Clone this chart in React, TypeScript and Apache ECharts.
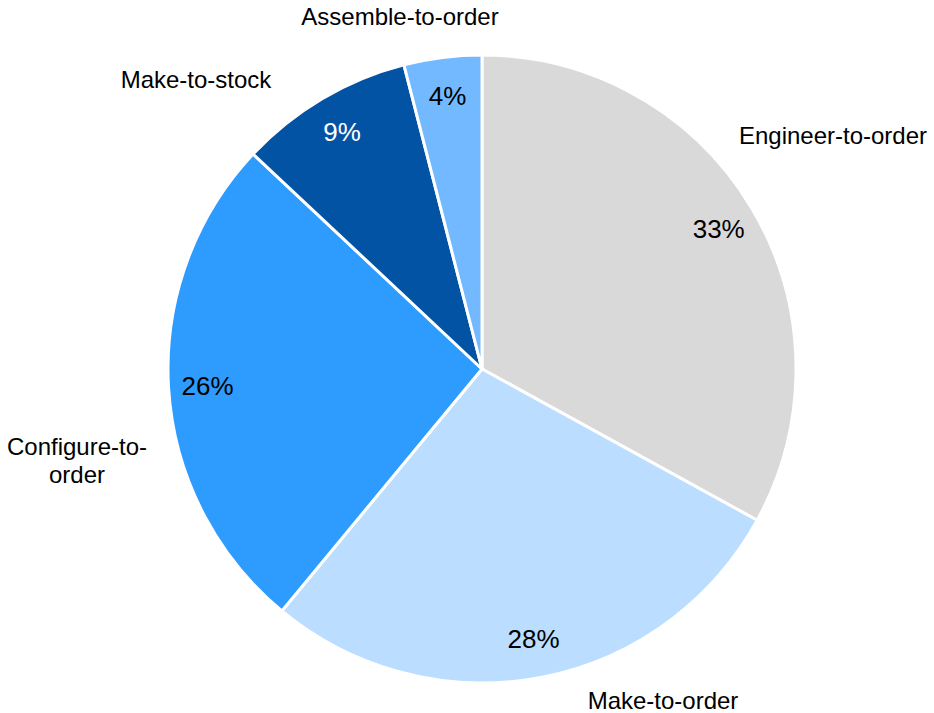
import React, { useEffect, useRef } from "react";
import * as echarts from "echarts";

const categories = [
  "Engineer-to-order",
  "Make-to-order",
  "Configure-to-order",
  "Make-to-stock",
  "Assemble-to-order",
];
const shares = [33, 28, 26, 9, 4];
const nameLabels = [
  "Engineer-to-order",
  "Make-to-order",
  "Configure-to-\norder",
  "Make-to-stock",
  "Assemble-to-order",
];
const colors = ["#D9D9D9", "#BBDDFF", "#2E9BFF", "#0353A4", "#72B9FF"];
const pctColors = ["#000000", "#000000", "#000000", "#ffffff", "#000000"];
// label anchor points (centre of each category label), in px
const nameLabelPos: [number, number][] = [
  [833, 135],
  [663, 700],
  [77, 460],
  [196, 79],
  [400, 16],
];

const FONT = "'Liberation Sans', Arial, Helvetica, sans-serif";

export default function App() {
  const ref = useRef<HTMLDivElement>(null);
  useEffect(() => {
    if (!ref.current) return;
    const chart = echarts.init(ref.current, undefined, { renderer: "svg" });
    const data = categories.map((name, i) => ({
      name,
      value: shares[i],
      itemStyle: { color: colors[i] },
    }));
    chart.setOption({
      animation: false,
      backgroundColor: "#ffffff",
      series: [
        {
          type: "pie",
          center: [482, 369],
          radius: 314,
          startAngle: 90,
          clockwise: true,
          silent: true,
          data,
          itemStyle: { borderColor: "#ffffff", borderWidth: 3 },
          label: {
            show: true,
            position: "outside",
            alignTo: "none",
            overflow: "none",
            formatter: (p: any) => nameLabels[p.dataIndex],
            fontFamily: FONT,
            fontSize: 24,
            lineHeight: 28,
            color: "#000000",
            align: "center",
          },
          labelLine: { show: false },
          labelLayout: (p: any) => {
            if (p.seriesIndex !== 0) return {};
            const pos = nameLabelPos[p.dataIndex];
            return {
              x: pos[0],
              y: pos[1],
              align: "center",
              verticalAlign: "middle",
            };
          },
        },
        {
          type: "pie",
          center: [482, 369],
          radius: [230, 314],
          startAngle: 90,
          clockwise: true,
          silent: true,
          data: categories.map((name, i) => ({
            name,
            value: shares[i],
            label: { color: pctColors[i] },
          })),
          itemStyle: { color: "rgba(0,0,0,0)", borderWidth: 0 },
          label: {
            show: true,
            position: "inside",
            formatter: "{c}%",
            fontFamily: FONT,
            fontSize: 26,
            color: "#000000",
          },
          labelLine: { show: false },
        },
      ],
    });
    return () => chart.dispose();
  }, []);
  return (
    <div
      ref={ref}
      style={{ position: "absolute", left: 0, top: 0, width: 934, height: 713 }}
    />
  );
}
